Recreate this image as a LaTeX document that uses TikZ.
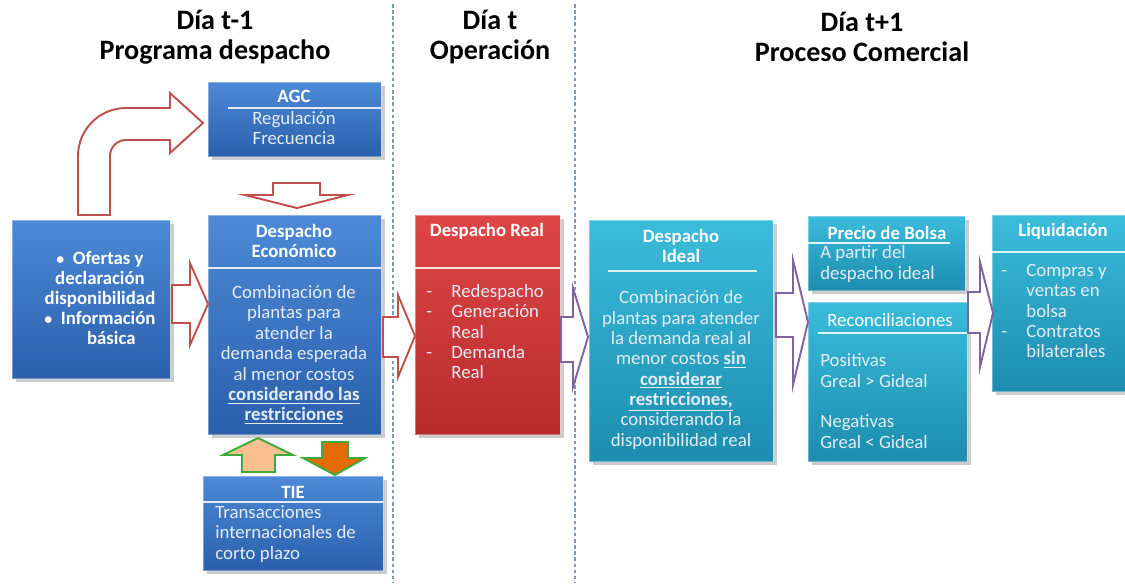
\documentclass[tikz,border=0pt]{standalone}
\usepackage{fontspec}
\setmainfont{Carlito}
\usetikzlibrary{shadows,fit}

\definecolor{bluetop}{HTML}{4D89D6}
\definecolor{bluebot}{HTML}{2A60AC}
\definecolor{redtop}{HTML}{DE4646}
\definecolor{redbot}{HTML}{B92C2C}
\definecolor{tealtop}{HTML}{3BBCDB}
\definecolor{tealbot}{HTML}{1C8DAE}
\definecolor{lighttext}{HTML}{E4ECF6}
\definecolor{arrowred}{HTML}{C0504D}
\definecolor{arrowpurple}{HTML}{8064A2}
\definecolor{arrowgreen}{HTML}{3DAA3A}
\definecolor{peach}{HTML}{FAC090}
\definecolor{orangefill}{HTML}{E36C09}
\definecolor{sepblue}{HTML}{7A97BE}

\tikzset{
  panel/.style={inner sep=0pt, draw=white, draw opacity=0.35, line width=0.5pt,
    drop shadow={opacity=0.4, shadow xshift=2pt, shadow yshift=-2pt}},
  bluebox/.style={panel, top color=bluetop, bottom color=bluebot},
  redbox/.style={panel, top color=redtop, bottom color=redbot},
  tealbox/.style={panel, top color=tealtop, bottom color=tealbot},
  title/.style={align=center, inner sep=0pt, font=\fontsize{16}{17}\selectfont\bfseries},
  hdr/.style={align=center, inner sep=0pt, text=white, font=\fontsize{10.7}{11.4}\selectfont\bfseries},
  body/.style={align=center, inner sep=0pt, text=lighttext, font=\fontsize{10.7}{11.6}\selectfont},
  bodyl/.style={body, align=left, anchor=west},
  divider/.style={draw=white, line width=0.8pt, opacity=0.85},
  sep/.style={draw=sepblue, line width=0.6pt, dash pattern=on 2pt off 1.5pt},
  blockred/.style={draw=arrowred, line width=1.1pt, fill=white, line join=miter},
  blockpurple/.style={draw=arrowpurple, line width=1.1pt, fill=white, line join=miter},
  blockgreen/.style={draw=arrowgreen, line width=1.1pt, fill=#1, line join=miter}
}

\begin{document}
\begin{tikzpicture}[x=0.02cm, y=-0.02cm]
\useasboundingbox (0,0) rectangle (1125,583);

% Titles
\node[title] (day1) at (215,37) {Día t-1\\Programa despacho};
\node[title] (day2) at (490,37) {Día t\\Operación};
\node[title] (day3) at (862,37) {Día t+1\\Proceso Comercial};

% Separators
\coordinate (sepa1) at (393,4);
\coordinate (sepa2) at (393,583);
\coordinate (sepb1) at (575,4);
\coordinate (sepb2) at (575,583);
\draw[sep] (sepa1) -- (sepa2);
\draw[sep] (sepb1) -- (sepb2);

% Boxes
\node[bluebox, fit={(12,220) (170,378)}] (inp) {};
\node[bluebox, fit={(208,82) (381,156)}] (agc) {};
\node[bluebox, fit={(208,215) (381,434)}] (econ) {};
\node[bluebox, fit={(203,476) (383,570)}] (tie) {};
\node[redbox, fit={(415,215) (560,434)}] (real) {};
\node[tealbox, fit={(589,220) (773,461)}] (ideal) {};
\node[tealbox, fit={(808,216) (965,290)}] (precio) {};
\node[tealbox, fit={(808,302) (967,461)}] (recon) {};
\node[tealbox, fit={(992,215) (1140,391)}] (liq) {};

% Inputs
\node[hdr] (inptext) at (100,298)
  {{\small\textbullet}\ \ Ofertas y\\declaración\\disponibilidad\\{\small\textbullet}\ \ Información\\\hspace*{1.2em}básica};

% AGC
\node[hdr] (agchead) at (294,96) {AGC};
\draw[divider] (228,108) -- (381,108);
\node[body] (agcbody) at (294,128) {Regulación\\Frecuencia};

% Despacho economico
\node[hdr] (econhead) at (294,241) {Despacho\\Económico};
\draw[divider] (208,268) -- (381,268);
\node[body] (econbody) at (294,355)
  {Combinación de\\plantas para\\atender la\\demanda esperada\\al menor costos\\
   \underline{\textbf{considerando las}}\\\underline{\textbf{restricciones}}};

% TIE
\node[hdr] (tiehead) at (293,492) {TIE};
\draw[divider] (203,502) -- (383,502);
\node[bodyl] (tiebody) at (215,534) {Transacciones\\internacionales de\\corto plazo};

% Despacho real
\node[hdr] (realhead) at (487,231) {Despacho Real};
\draw[divider] (415,268) -- (560,268);
\node[bodyl] (realbody) at (426,334)
  {\begin{tabular}{@{}l@{\hspace{11pt}}l@{}}
   -&Redespacho\\ -&Generación\\ &Real\\ -&Demanda\\ &Real
   \end{tabular}};

% Despacho ideal
\node[hdr] (idealhead) at (681,246) {Despacho\\Ideal};
\draw[divider] (608,271) -- (757,271);
\node[body] (idealbody) at (681,370)
  {Combinación de\\plantas para atender\\la demanda real al\\menor costos \underline{\textbf{sin}}\\
   \underline{\textbf{considerar}}\\\underline{\textbf{restricciones,}}\\considerando la\\disponibilidad real};

% Precio de bolsa
\node[hdr] (preciohead) at (887,233) {Precio de Bolsa};
\draw[divider] (808,243) -- (950,243);
\node[bodyl] (preciobody) at (820,264) {A partir del\\despacho ideal};

% Reconciliaciones
\node[body, text=white] (reconhead) at (890,320) {Reconciliaciones};
\draw[divider] (818,333) -- (967,333);
\node[bodyl] (reconbody) at (820,401)
  {Positivas\\Greal > Gideal\\[11.6pt]Negativas\\Greal < Gideal};

% Liquidacion
\node[hdr] (liqhead) at (1063,231) {Liquidación};
\draw[divider] (992,252) -- (1125,252);
\node[bodyl] (liqbody) at (1001,313)
  {\begin{tabular}{@{}l@{\hspace{11pt}}l@{}}
   -&Compras y\\ &ventas en\\ &bolsa\\ -&Contratos\\ &bilaterales
   \end{tabular}};

% Block arrows
\draw[blockred] (78,215) -- (78,156) arc[start angle=180, end angle=270, radius=48]
  -- (170,108) -- (170,93) -- (203,123) -- (170,153) -- (170,140) -- (126,140)
  arc[start angle=270, end angle=180, radius=16] -- (110,215) -- cycle;
\draw[blockred] (273,183) -- (320,183) -- (320,195) -- (348,195) -- (297,208)
  -- (245,195) -- (273,195) -- cycle;
\draw[blockred] (172,285) -- (190,285) -- (190,263) -- (208,304) -- (190,345)
  -- (190,323) -- (172,323) -- cycle;
\draw[blockred] (383,317) -- (398,317) -- (398,295) -- (415,336) -- (398,377)
  -- (398,357) -- (383,357) -- cycle;
\draw[blockpurple] (561,317) -- (573,317) -- (573,288) -- (588,337) -- (573,387)
  -- (573,362) -- (561,362) -- cycle;
\draw[blockpurple] (776,293) -- (793,293) -- (793,260) -- (808,322) -- (793,385)
  -- (793,337) -- (776,337) -- cycle;
\draw[blockpurple] (968,292) -- (980,292) -- (980,262) -- (993,313) -- (980,367)
  -- (980,333) -- (968,333) -- cycle;
\draw[blockgreen=peach] (242,472) -- (242,455) -- (223,455) -- (258,438) -- (293,455)
  -- (275,455) -- (275,472) -- cycle;
\draw[blockgreen=orangefill] (322,442) -- (348,442) -- (348,458) -- (365,458)
  -- (335,475) -- (303,458) -- (322,458) -- cycle;

\end{tikzpicture}
\end{document}
